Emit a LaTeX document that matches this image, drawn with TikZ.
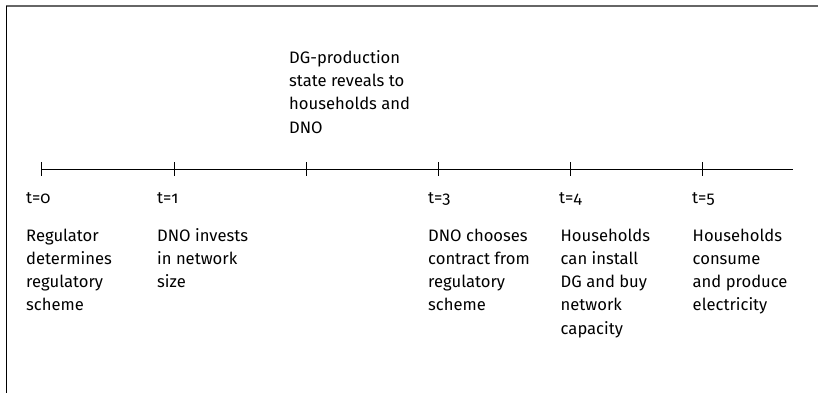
\documentclass[tikz,border=0pt]{standalone}
\usepackage{fontspec}
\setmainfont[Numbers=OldStyle]{Fira Sans}
\usetikzlibrary{calc}
\definecolor{framegray}{HTML}{666666}

\begin{document}
\begin{tikzpicture}[x=1pt, y=-1pt,
    timetick/.style={black, line width=0.9pt},
    stagetext/.style={anchor=base west, inner sep=0pt, align=left,
      font=\fontsize{16.6}{23.3}\selectfont}]
  \useasboundingbox (0,0) rectangle (818,393);
  % frame
  \draw[framegray, line width=1.7pt] (6,6) -- (818,6);
  \draw[black, line width=1.2pt] (6.7,6) -- (6.7,393);

  % time line
  \coordinate (T0) at (41.5,169);
  \coordinate (T1) at (174,169);
  \coordinate (T2) at (306,169);
  \coordinate (T3) at (438,169);
  \coordinate (T4) at (570,169);
  \coordinate (T5) at (702.5,169);
  \coordinate (End) at (793,169);
  \draw[timetick] (T0) -- (End);
  \draw[timetick] ($(T0)+(0,-7)$) -- ($(T0)+(0,7)$);
  \draw[timetick] ($(T1)+(0,-7)$) -- ($(T1)+(0,7)$);
  \draw[timetick] ($(T2)+(0,-7)$) -- ($(T2)+(0,7)$);
  \draw[timetick] ($(T3)+(0,-7)$) -- ($(T3)+(0,7)$);
  \draw[timetick] ($(T4)+(0,-7)$) -- ($(T4)+(0,7)$);
  \draw[timetick] ($(T5)+(0,-7)$) -- ($(T5)+(0,7)$);

  % stage labels
  \node[stagetext] (L0) at (26,203) {t=0};
  \node[stagetext] (L1) at (157,203) {t=1};
  \node[stagetext] (L3) at (428,203) {t=3};
  \node[stagetext] (L4) at (559,203) {t=4};
  \node[stagetext] (L5) at (692,203) {t=5};

  % what happens (base = last line)
  \node[stagetext] (S2) at (289,133.2) {DG-production\\state reveals to\\households and\\DNO};
  \node[stagetext] (S0) at (26,310.9) {Regulator\\determines\\regulatory\\scheme};
  \node[stagetext] (S1) at (157,287.6) {DNO invests\\in network\\size};
  \node[stagetext] (S3) at (428,310.9) {DNO chooses\\contract from\\regulatory\\scheme};
  \node[stagetext] (S4) at (560.5,334.2) {Households\\can install\\DG and buy\\network\\capacity};
  \node[stagetext] (S5) at (692.5,310.9) {Households\\consume\\and produce\\electricity};
\end{tikzpicture}
\end{document}
